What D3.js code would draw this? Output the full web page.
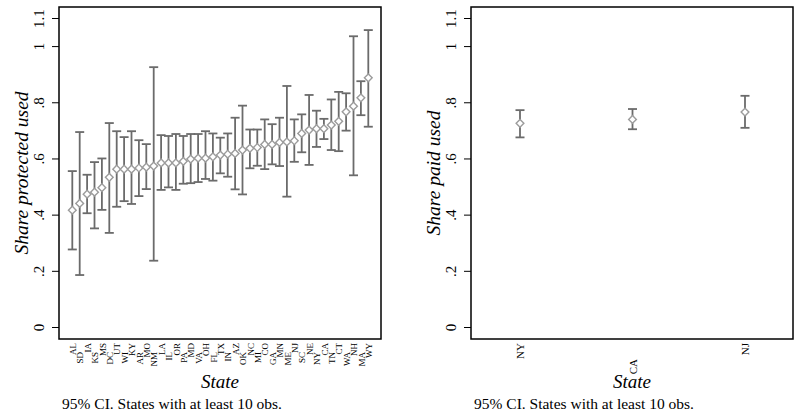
<!DOCTYPE html>
<html>
<head>
<meta charset="utf-8">
<script src="https://cdn.jsdelivr.net/npm/d3@7"></script>
<style>
  body { margin: 0; background: #fff; }
  svg { display: block; }
  svg text { font-family: "Liberation Serif", "Times New Roman", Times, "DejaVu Serif", serif; }
</style>
</head>
<body>
<main></main>
<script>
// Set dimensions
const w = 799;
const h = 415;

// Left panel data: share protected used, by state (sorted)
const states = ["AL", "SD", "IA", "KS", "MS", "DC", "UT", "WI", "KY", "AR", "MO", "NM", "LA", "IL",
  "OR", "PA", "MD", "VA", "OH", "FL", "TX", "IN", "AZ", "OK", "NC", "MI", "CO", "GA", "MN", "ME",
  "NJ", "SC", "NE", "NY", "CA", "TN", "CT", "WA", "NH", "MA", "WY"];
const protMean = [0.416, 0.44, 0.473, 0.48, 0.496, 0.533, 0.562, 0.562, 0.562, 0.566, 0.569, 0.573, 0.584, 0.584,
  0.584, 0.59, 0.598, 0.601, 0.601, 0.606, 0.612, 0.615, 0.618, 0.63, 0.636, 0.639, 0.65, 0.65, 0.657, 0.659,
  0.663, 0.689, 0.701, 0.706, 0.706, 0.719, 0.732, 0.766, 0.786, 0.816, 0.887];
const protLo = [0.276, 0.185, 0.405, 0.351, 0.417, 0.335, 0.428, 0.448, 0.438, 0.466, 0.491, 0.236, 0.488, 0.497,
  0.488, 0.51, 0.512, 0.516, 0.527, 0.521, 0.547, 0.535, 0.49, 0.472, 0.565, 0.574, 0.562, 0.579, 0.573, 0.464,
  0.588, 0.622, 0.577, 0.641, 0.669, 0.63, 0.626, 0.699, 0.54, 0.754, 0.713];
const protHi = [0.555, 0.694, 0.542, 0.587, 0.6, 0.726, 0.697, 0.676, 0.697, 0.665, 0.651, 0.925, 0.683, 0.68,
  0.687, 0.68, 0.687, 0.687, 0.697, 0.689, 0.674, 0.689, 0.745, 0.788, 0.703, 0.703, 0.739, 0.722, 0.745, 0.858,
  0.739, 0.757, 0.826, 0.77, 0.741, 0.81, 0.837, 0.832, 1.035, 0.875, 1.057];

// Right panel data: share paid used
const paidStates = ["NY", "CA", "NJ"];
const paidMean = [0.725, 0.739, 0.765];
const paidLo = [0.675, 0.704, 0.709];
const paidHi = [0.772, 0.776, 0.823];

const yTicks = [0, 0.2, 0.4, 0.6, 0.8, 1, 1.1];
const yTickLabels = ["0", ".2", ".4", ".6", ".8", "1", "1.1"];

const note = "95% CI. States with at least 10 obs.";

const barColor = "#6b6b6b";
const markColor = "#9c9c9c";
const serif = '"Liberation Serif", "Times New Roman", Times, "DejaVu Serif", serif';

// Create svg
const svg = d3
  .select("main")
  .append("svg")
  .attr("width", w)
  .attr("height", h)
  .attr("viewBox", `0 0 ${w} ${h}`);

function drawPanel(opts) {
  const { left, right, top, bottom, cats, mean, lo, hi, pad, yTitle, labSize, alt } = opts;

  const g = svg.append("g");

  // Scales
  const x = d3.scalePoint().domain(cats).range([left + pad[0], right - pad[1]]);
  const y = d3.scaleLinear().domain([0, 1.1]).range([327, 18]);

  // Y axis
  const yAxis = d3
    .axisLeft(y)
    .tickValues(yTicks)
    .tickFormat((d, i) => yTickLabels[i])
    .tickSize(7);
  const ya = g.append("g").attr("transform", `translate(${left}, 0)`).call(yAxis);
  ya.attr("font-family", serif);
  ya.select(".domain").remove();
  ya.selectAll(".tick line").attr("stroke", "#000").attr("stroke-width", 1);
  ya.selectAll(".tick text")
    .attr("transform", "rotate(-90)")
    .attr("x", 0)
    .attr("y", -15)
    .attr("dy", null)
    .attr("text-anchor", "middle")
    .attr("font-size", 15)
    .attr("fill", "#000");

  // Y title
  g.append("text")
    .attr("transform", `translate(${left - 31}, ${(top + bottom) / 2}) rotate(-90)`)
    .attr("text-anchor", "middle")
    .attr("font-size", 19.5)
    .attr("font-style", "italic")
    .text(yTitle);

  // X axis labels (alternating)
  const xAxis = d3.axisBottom(x).tickSize(0);
  const xa = g.append("g").attr("transform", `translate(0, ${bottom})`).call(xAxis);
  xa.attr("font-family", serif);
  xa.select(".domain").remove();
  xa.selectAll(".tick text")
    .attr("transform", "rotate(-90)")
    .attr("x", (d, i) => -4 - (i % 2 ? alt : 0))
    .attr("y", labSize * 0.35)
    .attr("dy", null)
    .attr("text-anchor", "end")
    .attr("font-size", labSize)
    .attr("fill", "#000");

  // X title
  g.append("text")
    .attr("x", (left + right) / 2)
    .attr("y", 388)
    .attr("text-anchor", "middle")
    .attr("font-size", 19)
    .attr("font-style", "italic")
    .text("State");

  // Note
  g.append("text")
    .attr("x", left + 3)
    .attr("y", 409)
    .attr("font-size", 15.5)
    .text(note);

  // Error bars
  const bars = g.selectAll(".ci").data(cats).enter().append("g").attr("class", "ci");
  bars.append("line")
    .attr("x1", (d) => x(d))
    .attr("x2", (d) => x(d))
    .attr("y1", (d, i) => y(lo[i]))
    .attr("y2", (d, i) => y(hi[i]))
    .attr("stroke", barColor)
    .attr("stroke-width", 1.8);
  [lo, hi].forEach((arr) => {
    bars.append("line")
      .attr("x1", (d) => x(d) - 4.5)
      .attr("x2", (d) => x(d) + 4.5)
      .attr("y1", (d, i) => y(arr[i]))
      .attr("y2", (d, i) => y(arr[i]))
      .attr("stroke", barColor)
      .attr("stroke-width", 1.8);
  });

  // Markers: hollow diamonds
  g.selectAll(".mk")
    .data(cats)
    .enter()
    .append("path")
    .attr("class", "mk")
    .attr("d", d3.symbol(d3.symbolSquare, 30))
    .attr("transform", (d, i) => `translate(${x(d)}, ${y(mean[i])}) rotate(45)`)
    .attr("fill", "#fff")
    .attr("stroke", markColor)
    .attr("stroke-width", 1.4);

  // Frame
  g.append("rect")
    .attr("x", left)
    .attr("y", top)
    .attr("width", right - left)
    .attr("height", bottom - top)
    .attr("fill", "none")
    .attr("stroke", "#000")
    .attr("stroke-width", 1.5);
}

drawPanel({
  left: 59, right: 381, top: 7, bottom: 339,
  cats: states, mean: protMean, lo: protLo, hi: protHi,
  pad: [13.3, 12.7], yTitle: "Share protected used", labSize: 9, alt: 9
});

drawPanel({
  left: 471, right: 793, top: 7, bottom: 339,
  cats: paidStates, mean: paidMean, lo: paidLo, hi: paidHi,
  pad: [49, 48], yTitle: "Share paid used", labSize: 11, alt: 16
});
</script>
</body>
</html>
